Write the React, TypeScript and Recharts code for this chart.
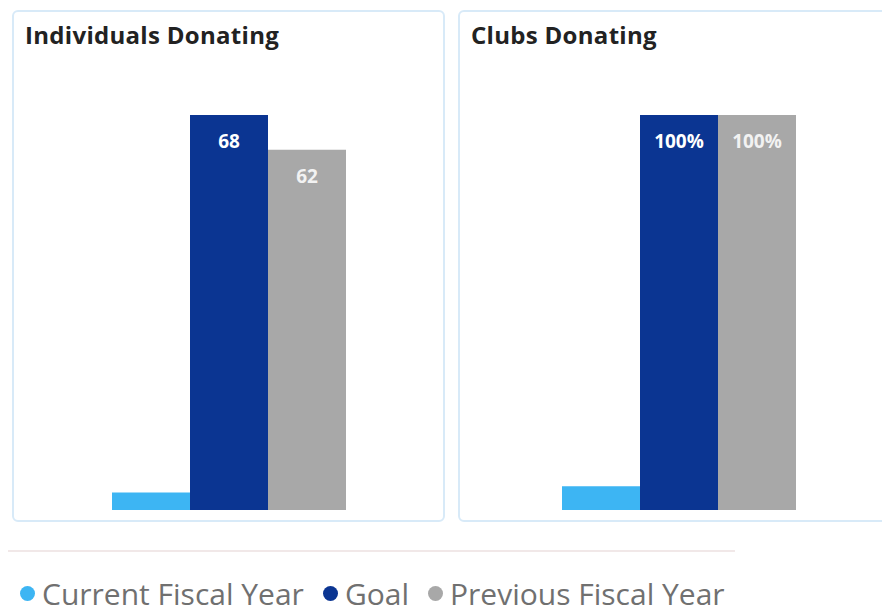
import React from "react";
import { BarChart, Bar, XAxis, YAxis, LabelList } from "recharts";

const seriesNames = ["Current Fiscal Year", "Goal", "Previous Fiscal Year"];
const seriesKeys = ["current", "goal", "previous"];
const seriesColors = ["#3db5f3", "#0b3592", "#a8a8a8"];
const labelColors = ["#ffffff", "#ffffff", "#f2f2f2"];

const individualsValues = [3, 68, 62];
const clubsValues = [6, 100, 100];

const panelTitles = ["Individuals Donating", "Clubs Donating"];

function toRow(values: number[]) {
  const row: Record<string, any> = { name: "" };
  seriesKeys.forEach((k, i) => (row[k] = values[i]));
  return [row];
}

const FONT = "'Open Sans', 'Segoe UI', sans-serif";

function Panel({
  left,
  width,
  title,
  values,
  suffix,
  marginLeft,
  marginRight,
}: {
  left: number;
  width: number;
  title: string;
  values: number[];
  suffix: string;
  marginLeft: number;
  marginRight: number;
}) {
  const data = toRow(values);
  const innerW = width - 4;
  const innerH = 508;
  return (
    <div
      style={{
        position: "absolute",
        left,
        top: 10,
        width: innerW,
        height: innerH,
        border: "2px solid #d8eaf8",
        borderRadius: 6,
        background: "#fff",
      }}
    >
      <div
        style={{
          position: "absolute",
          left: 11,
          top: 6,
          fontFamily: FONT,
          fontWeight: 700,
          fontSize: 24,
          letterSpacing: 0.3,
          color: "#222",
          whiteSpace: "nowrap",
        }}
      >
        {title}
      </div>
      <BarChart
        width={innerW}
        height={innerH}
        data={data}
        margin={{ top: 103, bottom: 10, left: marginLeft, right: marginRight }}
        barCategoryGap={0}
        barGap={0}
      >
        <XAxis dataKey="name" hide />
        <YAxis hide domain={[0, "dataMax"]} />
        {seriesKeys.map((k, i) => (
          <Bar key={k} dataKey={k} fill={seriesColors[i]} isAnimationActive={false}>
            {i > 0 && (
              <LabelList
                dataKey={k}
                position="insideTop"
                offset={20}
                fill={labelColors[i]}
                fontFamily={FONT}
                fontWeight={700}
                fontSize={19}
                formatter={(v: any) => `${v}${suffix}`}
              />
            )}
          </Bar>
        ))}
      </BarChart>
    </div>
  );
}

export default function App() {
  const legendLeft = [20, 323, 428];
  return (
    <div
      style={{
        position: "absolute",
        left: 0,
        top: 0,
        width: 882,
        height: 613,
        overflow: "hidden",
        background: "#fff",
      }}
    >
      <Panel
        left={12}
        width={433}
        title={panelTitles[0]}
        values={individualsValues}
        suffix=""
        marginLeft={98}
        marginRight={96}
      />
      <Panel
        left={458}
        width={440}
        title={panelTitles[1]}
        values={clubsValues}
        suffix="%"
        marginLeft={102}
        marginRight={100}
      />
      <div
        style={{
          position: "absolute",
          left: 8,
          top: 550,
          width: 727,
          height: 2,
          background: "#f1e8e8",
        }}
      />
      {seriesNames.map((n, i) => (
        <div
          key={n}
          style={{
            position: "absolute",
            left: legendLeft[i],
            top: 572,
            height: 42,
            display: "flex",
            alignItems: "center",
            fontFamily: FONT,
            fontSize: 30,
            color: "#707070",
            whiteSpace: "nowrap",
          }}
        >
          <span
            style={{
              display: "inline-block",
              width: 15,
              height: 15,
              borderRadius: "50%",
              background: seriesColors[i],
              marginRight: 7,
            }}
          />
          {n}
        </div>
      ))}
    </div>
  );
}
